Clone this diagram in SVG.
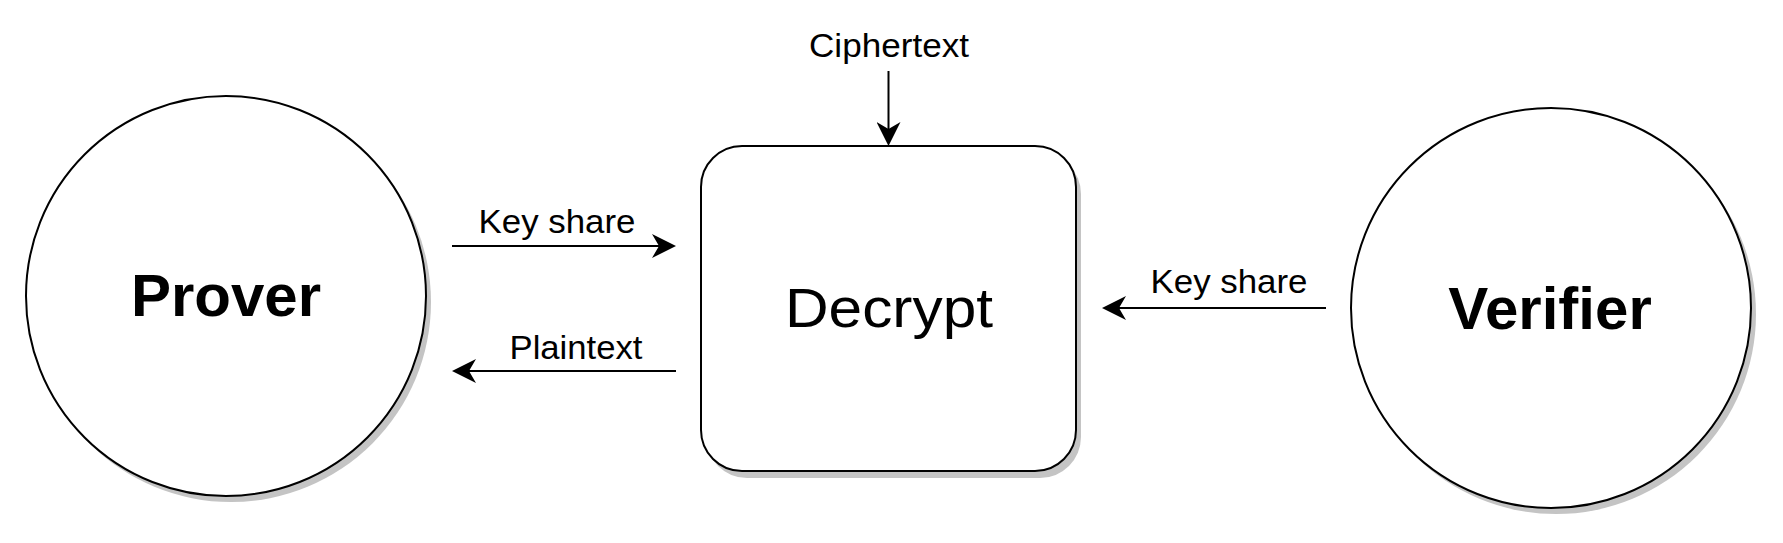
<svg xmlns="http://www.w3.org/2000/svg" width="1783" height="543" viewBox="0 0 1783 543">
<style>
.shape{fill:#ffffff;stroke:#000000;stroke-width:2}
.shadow{fill:#c4c4c4;stroke:none}
.big{font-family:"Liberation Sans",Arial,sans-serif;font-weight:bold;font-size:60px;fill:#000}
.mid{font-family:"Liberation Sans",Arial,sans-serif;font-size:56px;fill:#000}
.lbl{font-family:"Liberation Sans",Arial,sans-serif;font-size:33px;fill:#000}
.edge{fill:none;stroke:#000;stroke-width:2}
</style>
<defs>
<marker id="arr" markerUnits="userSpaceOnUse" viewBox="0 0 24 24" markerWidth="24" markerHeight="24" refX="7" refY="12" orient="auto">
<path d="M0,0 L24,12 L0,24 L7,12 Z" fill="#000"/>
</marker>
</defs>
<rect width="1783" height="543" fill="#ffffff"/>
<g id="prover">
<circle class="shadow" cx="231" cy="302" r="200"/>
<circle class="shape" cx="226" cy="296" r="200"/>
<text class="big" x="226" y="316" text-anchor="middle">Prover</text>
</g>
<g id="decrypt">
<rect class="shadow" x="706" y="153" width="375" height="325" rx="41" ry="41"/>
<rect class="shape" x="701" y="146" width="375" height="325" rx="41" ry="41"/>
<text class="mid" x="889" y="327" text-anchor="middle" textLength="208" lengthAdjust="spacingAndGlyphs">Decrypt</text>
</g>
<g id="verifier">
<circle class="shadow" cx="1556" cy="314" r="200"/>
<circle class="shape" cx="1551" cy="308" r="200"/>
<text class="big" x="1550" y="329" text-anchor="middle">Verifier</text>
</g>
<g id="connectors">
<line class="edge" x1="888.5" y1="71" x2="888.5" y2="129" marker-end="url(#arr)"/>
<line class="edge" x1="452" y1="246" x2="659" y2="246" marker-end="url(#arr)"/>
<line class="edge" x1="676" y1="371" x2="469" y2="371" marker-end="url(#arr)"/>
<line class="edge" x1="1326" y1="308" x2="1119" y2="308" marker-end="url(#arr)"/>
<text class="lbl" x="889" y="57" text-anchor="middle" textLength="160" lengthAdjust="spacingAndGlyphs">Ciphertext</text>
<text class="lbl" x="557" y="233" text-anchor="middle" textLength="157" lengthAdjust="spacingAndGlyphs">Key share</text>
<text class="lbl" x="576" y="359" text-anchor="middle" textLength="133" lengthAdjust="spacingAndGlyphs">Plaintext</text>
<text class="lbl" x="1229" y="293" text-anchor="middle" textLength="157" lengthAdjust="spacingAndGlyphs">Key share</text>
</g>
</svg>
